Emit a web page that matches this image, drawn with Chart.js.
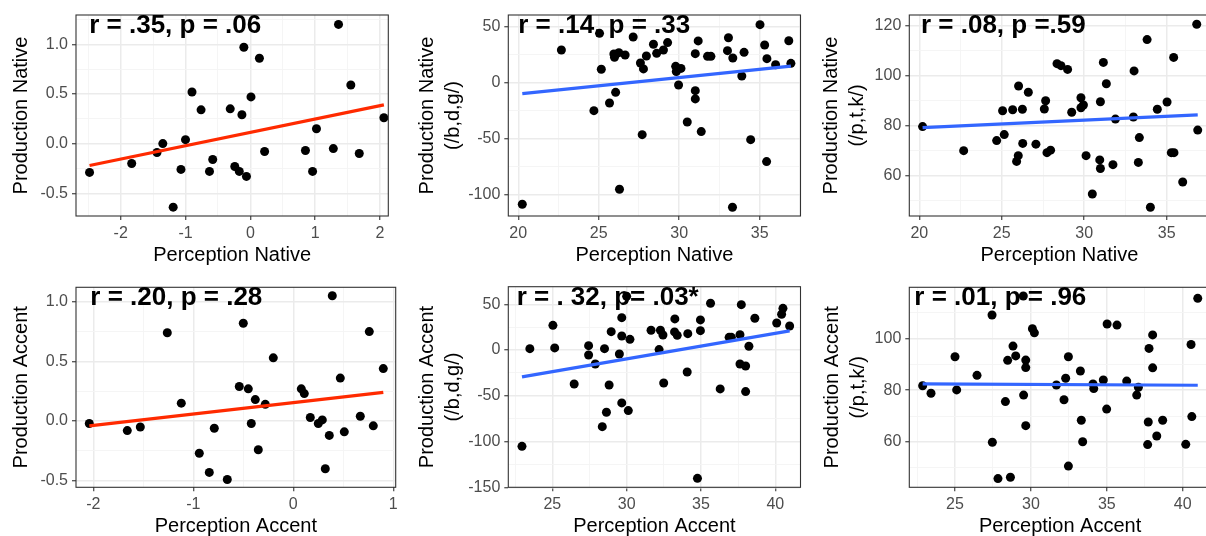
<!DOCTYPE html>
<html><head><meta charset="utf-8">
<script src="https://cdn.jsdelivr.net/npm/chart.js@4.4.0/dist/chart.umd.min.js"></script>
<style>
html,body{margin:0;padding:0;width:1206px;height:536px;overflow:hidden;background:#fff;position:relative;}
canvas{position:absolute;}
</style></head><body>
<canvas id="c1"></canvas><canvas id="c2"></canvas><canvas id="c3"></canvas>
<canvas id="c4"></canvas><canvas id="c5"></canvas><canvas id="c6"></canvas>
<script>
// ---------- DATA ----------
// Panel 1: Perception Native (z) vs Production Native (z)
const panel1X = [-2.48,-1.83,-1.44,-1.35,-1.07,-1.00,-0.90,-1.19,-0.76,-0.63,-0.58,-0.31,-0.24,-0.17,-0.13,-0.06,-0.10,0.01,0.14,0.22,0.85,0.96,1.02,1.28,1.36,1.55,1.68,2.06];
const panel1Y = [-0.29,-0.20,-0.09,0.00,-0.26,0.04,0.52,-0.64,0.34,-0.28,-0.16,0.35,-0.23,-0.28,0.29,-0.33,0.97,0.47,0.86,-0.08,-0.07,-0.28,0.15,-0.05,1.20,0.59,-0.10,0.26];
const panel1FitX = [-2.48, 2.06];
const panel1FitY = [-0.22, 0.39];

// Panel 2: Perception Native vs Production Native (/b,d,g/)
const panel2X = [20.25,22.68,24.70,25.05,25.16,25.67,25.94,25.98,26.05,26.25,26.29,26.64,27.14,27.59,27.78,27.70,27.96,28.40,28.60,29.02,29.28,29.78,29.82,29.96,30.11,30.50,31.00,31.00,31.00,31.18,31.37,31.76,31.97,33.06,33.00,33.33,33.31,33.89,34.03,34.44,35.02,35.31,35.45,35.43,35.99,36.81,36.94];
const panel2Y = [-108.9,29.4,-25.0,44.3,12.1,-18.1,25.8,22.8,-8.6,27.0,-95.5,24.9,41.0,17.7,12.4,-46.5,24.0,34.5,26.4,29.4,36.0,14.7,10.0,-2.0,12.9,-35.2,26.1,-7.1,-14.5,37.5,-43.8,23.7,23.7,40.4,28.8,22.2,-111.6,6.1,27.3,-51.0,52.1,33.9,21.6,-70.7,16.2,37.7,17.4];
const panel2FitX = [20.25, 36.94];
const panel2FitY = [-9.8, 15.0];

// Panel 3: Perception Native vs Production Native (/p,t,k/)
const panel3X = [20.20,22.69,24.69,25.05,25.15,25.66,25.90,26.00,26.02,26.25,26.27,26.61,27.07,27.66,27.58,27.74,27.96,28.35,28.59,28.99,29.24,29.80,29.80,29.95,30.11,30.49,30.98,30.94,30.98,31.16,31.34,31.74,31.89,33.02,32.98,33.28,33.34,33.81,34.01,34.43,35.02,35.28,35.44,35.42,35.97,36.82,36.88];
const panel3Y = [79.6,70.0,74.0,85.9,76.4,86.3,65.7,68.0,95.8,86.5,72.9,93.3,72.6,89.9,86.6,69.2,70.2,104.7,103.9,102.4,85.3,91.1,87.1,88.2,68.0,52.7,89.5,66.3,62.9,105.2,96.7,64.4,82.6,101.8,83.4,65.3,75.2,114.3,47.4,86.5,89.4,69.2,69.2,107.2,57.5,120.4,78.2];
const panel3FitX = [20.20, 36.88];
const panel3FitY = [79.2, 84.3];

// Panel 4: Perception Accent (z) vs Production Accent (z)
const panel4X = [-2.04,-1.66,-1.53,-1.26,-1.12,-0.94,-0.84,-0.79,-0.66,-0.54,-0.50,-0.45,-0.42,-0.38,-0.35,-0.28,-0.20,0.08,0.11,0.17,0.25,0.29,0.32,0.36,0.39,0.47,0.51,0.67,0.76,0.80,0.90];
const panel4Y = [-0.02,-0.08,-0.05,0.74,0.15,-0.27,-0.43,-0.06,-0.49,0.29,0.82,0.27,-0.02,0.18,-0.24,0.14,0.53,0.27,0.23,0.03,-0.02,0.01,-0.40,-0.12,1.05,0.36,-0.09,0.04,0.75,-0.04,0.44];
const panel4FitX = [-2.04, 0.90];
const panel4FitY = [-0.04, 0.24];

// Panel 5: Perception Accent vs Production Accent (/b,d,g/)
const panel5X = [22.96,23.49,25.04,25.16,26.47,27.44,27.44,27.89,28.36,28.51,28.64,28.82,28.96,29.51,29.67,29.67,29.67,30.00,30.11,30.22,31.64,32.18,32.27,32.44,32.49,33.24,33.22,33.40,34.07,34.11,34.96,34.96,34.76,35.64,36.29,36.89,37.04,37.62,37.71,37.62,38.00,38.00,38.22,38.62,40.09,40.42,40.51,40.96];
const panel5Y = [-105.2,1.5,27.0,2.3,-37.1,4.8,-5.4,-15.2,-83.7,1.5,-68.0,-38.2,20.1,-4.3,35.4,15.4,-57.8,58.7,-66.2,11.7,21.6,0.5,21.6,16.5,-36.0,34.0,19.8,16.1,-24.0,17.9,32.9,21.2,-140.2,51.1,-42.5,13.9,13.9,16.8,49.6,-15.2,-17.4,-45.4,4.1,34.7,29.6,39.1,45.6,26.3];
const panel5FitX = [22.96, 40.96];
const panel5FitY = [-29.4, 20.9];

// Panel 6: Perception Accent vs Production Accent (/p,t,k/)
const panel6X = [22.87,23.42,25.00,25.11,26.45,27.44,27.46,27.83,28.32,28.47,28.65,28.82,29.00,29.52,29.66,29.66,29.66,29.50,30.10,30.23,31.68,32.18,32.29,32.47,32.47,33.26,33.32,33.41,34.09,34.14,34.77,34.99,35.02,35.67,36.31,36.97,37.08,37.69,37.73,37.78,38.02,38.02,38.29,38.68,40.20,40.55,40.60,40.99];
const panel6Y = [81.7,78.8,92.9,80.1,85.7,109.0,59.9,45.9,75.6,91.5,46.4,97.0,93.2,78.1,91.6,88.7,66.3,116.3,103.7,102.1,82.0,76.3,84.6,92.9,50.7,87.4,68.4,60.1,82.4,80.6,83.9,72.7,105.5,105.1,83.5,78.1,81.1,59.0,67.7,96.1,101.3,88.6,62.3,68.4,59.1,97.6,69.8,115.4];
const panel6FitX = [22.87, 40.99];
const panel6FitY = [82.4, 81.9];

// Tick values
const xTicksStd1 = [-2,-1,0,1,2];
const yTicksStd1 = [-0.5,0,0.5,1.0];
const xTicksRaw2 = [20,25,30,35];
const yTicksRaw2 = [-100,-50,0,50];
const xTicksRaw3 = [20,25,30,35];
const yTicksRaw3 = [60,80,100,120];
const xTicksStd4 = [-2,-1,0,1];
const yTicksStd4 = [-0.5,0,0.5,1.0];
const xTicksRaw5 = [25,30,35,40];
const yTicksRaw5 = [-150,-100,-50,0,50];
const xTicksRaw6 = [25,30,35,40];
const yTicksRaw6 = [60,80,100];

// Labels
const annotations = ["r = .35, p = .06","r = .14, p = .33","r = .08, p =.59","r = .20, p = .28","r = . 32, p= .03*","r = .01, p = .96"];
const xTitles = ["Perception Native","Perception Native","Perception Native","Perception Accent","Perception Accent","Perception Accent"];
const yTitles = [["Production Native"],["Production Native","(/b,d,g/)"],["Production Native","(/p,t,k/)"],["Production Accent"],["Production Accent","(/b,d,g/)"],["Production Accent","(/p,t,k/)"]];

// ---------- STYLE / LAYOUT ----------
const RED = '#FF2A00', BLUE = '#3366FF';
const FONT = "'Liberation Sans', Arial, Helvetica, sans-serif";
Chart.defaults.font.family = FONT;

const panels = [
  {id:'c1', X:panel1X, Y:panel1Y, FX:panel1FitX, FY:panel1FitY, col:RED, xt:xTicksStd1, yt:yTicksStd1, yDec:1,
   xr:[-2.689,2.128], yr:[-0.729,1.295], note:[-2.485,1.11], box:[0,0,400,268], area:[76,15,388.3,216], ytp:8, xtp:0},
  {id:'c2', X:panel2X, Y:panel2Y, FX:panel2FitX, FY:panel2FitY, col:BLUE, xt:xTicksRaw2, yt:yTicksRaw2, yDec:0,
   xr:[19.381,37.537], yr:[-119.46,60.76], note:[20.0,44.9], box:[400,0,405,268], area:[508.3,15,801.7,216], ytp:14.5, xtp:0},
  {id:'c3', X:panel3X, Y:panel3Y, FX:panel3FitX, FY:panel3FitY, col:BLUE, xt:xTicksRaw3, yt:yTicksRaw3, yDec:0,
   xr:[19.394,37.6], yr:[43.93,124.11], note:[20.1,116.8], box:[805,0,420,268], area:[909.3,15,1209.6,216], ytp:13.7, xtp:0},
  {id:'c4', X:panel4X, Y:panel4Y, FX:panel4FitX, FY:panel4FitY, col:RED, xt:xTicksStd4, yt:yTicksStd4, yDec:1,
   xr:[-2.173,1.024], yr:[-0.555,1.121], note:[-2.03,0.97], box:[0,268,404,280], area:[76,287.3,395.7,487.3], ytp:8, xtp:8.5},
  {id:'c5', X:panel5X, Y:panel5Y, FX:panel5FitX, FY:panel5FitY, col:BLUE, xt:xTicksRaw5, yt:yTicksRaw5, yDec:0,
   xr:[22.04,41.69], yr:[-150,69.23], note:[22.6,49.3], box:[400,268,405,280], area:[508.3,286.7,803,487.3], ytp:14.5, xtp:8.5},
  {id:'c6', X:panel6X, Y:panel6Y, FX:panel6FitX, FY:panel6FitY, col:BLUE, xt:xTicksRaw6, yt:yTicksRaw6, yDec:0,
   xr:[21.99,41.85], yr:[42.53,119.67], note:[22.32,112.9], box:[805,268,420,280], area:[909.3,287.3,1210.8,487.3], ytp:14.8, xtp:8.5},
];

function withMinors(majors, lo, hi){
  const out = majors.slice();
  const step = majors[1]-majors[0];
  for (let i=0;i<majors.length-1;i++) out.push((majors[i]+majors[i+1])/2);
  const a = majors[0]-step/2, b = majors[majors.length-1]+step/2;
  if (a>lo) out.push(a);
  if (b<hi) out.push(b);
  return out.sort((p,q)=>p-q);
}
function isMajor(majors, v){ return majors.some(m=>Math.abs(m-v)<1e-9); }

const framePlugin = {
  id:'frame',
  afterDatasetsDraw(chart, args, opts){
    const {ctx, chartArea:a, scales} = chart;
    ctx.save();
    ctx.strokeStyle = '#333333';
    ctx.lineWidth = 1.1;
    ctx.strokeRect(a.left, a.top, a.right-a.left, a.bottom-a.top);
    ctx.fillStyle = '#000';
    ctx.font = 'bold 26px ' + FONT;
    ctx.textAlign = 'left';
    ctx.textBaseline = 'alphabetic';
    ctx.fillText(opts.text, scales.x.getPixelForValue(opts.at[0]), scales.y.getPixelForValue(opts.at[1]));
    ctx.restore();
  }
};

function axis(majors, range, fmtDec, fit, title, titlePad, isX){
  const all = withMinors(majors, range[0], range[1]);
  return {
    type:'linear', min:range[0], max:range[1],
    afterBuildTicks: s => { s.ticks = all.map(v=>({value:v})); },
    afterFit: s => { if (isX) s.height = fit; else s.width = fit; },
    ticks:{ autoSkip:false, maxRotation:0, padding:4, color:'#4D4D4D', font:{size:16},
      callback: v => isMajor(majors, v) ? (fmtDec>0 ? v.toFixed(fmtDec) : String(Math.round(v))) : '' },
    grid:{ drawTicks:true, tickLength:4,
      color: c => (c.tick && isMajor(majors, c.tick.value)) ? '#EBEBEB' : '#F4F4F4',
      lineWidth: c => (c.tick && isMajor(majors, c.tick.value)) ? 1.5 : 0.9,
      tickColor: c => (c.tick && isMajor(majors, c.tick.value)) ? '#333333' : 'rgba(0,0,0,0)',
      tickWidth: 1.1 },
    border:{display:false},
    title:{ display:true, text:title, color:'#000', font:{size:20, lineHeight:1.3},
      padding: isX ? {top:0,bottom:titlePad} : {top:titlePad,bottom:0} }
  };
}

panels.forEach((p,i)=>{
  const cv = document.getElementById(p.id);
  const [bl,bt,bw,bh] = p.box;
  const [al,at,ar,ab] = p.area;
  cv.width = bw; cv.height = bh;
  cv.style.left = bl+'px'; cv.style.top = bt+'px';
  cv.style.width = bw+'px'; cv.style.height = bh+'px';
  new Chart(cv, {
    type:'scatter',
    data:{ datasets:[
      { type:'line', data:p.FX.map((x,k)=>({x, y:p.FY[k]})), borderColor:p.col, borderWidth:3.2,
        pointRadius:0, fill:false, tension:0, order:0 },
      { type:'scatter', data:p.X.map((x,k)=>({x, y:p.Y[k]})), backgroundColor:'#000', borderWidth:0,
        pointRadius:4.5, order:1 }
    ]},
    options:{
      responsive:false, animation:false, devicePixelRatio:1,
      layout:{ padding:{ left:0, top:at-bt, right:(bl+bw)-ar, bottom:0 } },
      plugins:{ legend:{display:false}, tooltip:{enabled:false},
        frame:{ text:annotations[i], at:p.note } },
      scales:{
        x: axis(p.xt, p.xr, 0, (bt+bh)-ab, xTitles[i], p.xtp, true),
        y: axis(p.yt, p.yr, p.yDec, al-bl, yTitles[i], p.ytp, false)
      }
    },
    plugins:[framePlugin]
  });
});
</script>
</body></html>
